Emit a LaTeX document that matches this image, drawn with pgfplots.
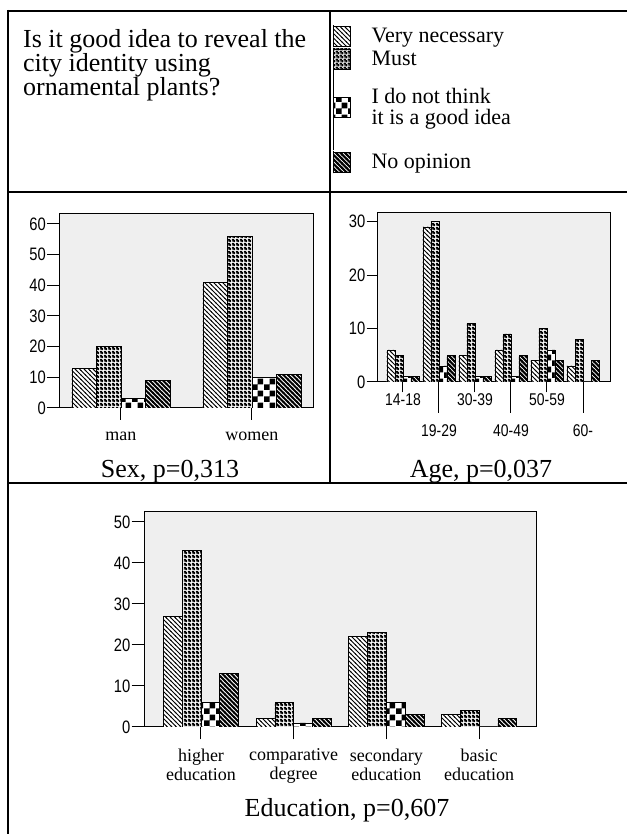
\documentclass[border=0pt]{standalone}
\usepackage{fontspec}
\setmainfont{Liberation Serif}
\newfontfamily\numfont{Liberation Sans}[FakeStretch=0.82]
\usepackage{pgfplots}
\usepackage{pgfplotstable}
\pgfplotsset{compat=1.18}
\usetikzlibrary{patterns}

\definecolor{plotbg}{RGB}{239,239,239}

% bar fill patterns (1pt = 1px of the reference)
\pgfdeclarepatternformonly{thinnw}{\pgfqpoint{-1pt}{-1pt}}{\pgfqpoint{5.5pt}{5.5pt}}{\pgfqpoint{4.5pt}{4.5pt}}{%
  \pgfsetlinewidth{0.9pt}%
  \pgfpathmoveto{\pgfqpoint{-0.5pt}{5pt}}%
  \pgfpathlineto{\pgfqpoint{5pt}{-0.5pt}}%
  \pgfusepath{stroke}}
\pgfdeclarepatternformonly{thicknw}{\pgfqpoint{-1pt}{-1pt}}{\pgfqpoint{5.5pt}{5.5pt}}{\pgfqpoint{4.5pt}{4.5pt}}{%
  \pgfsetlinewidth{2.1pt}%
  \pgfpathmoveto{\pgfqpoint{-0.5pt}{5pt}}%
  \pgfpathlineto{\pgfqpoint{5pt}{-0.5pt}}%
  \pgfusepath{stroke}}
\pgfdeclarepatternformonly{mustdots}{\pgfqpoint{0pt}{0pt}}{\pgfqpoint{4pt}{4pt}}{\pgfqpoint{4pt}{4pt}}{%
  \pgfpathrectangle{\pgfqpoint{0pt}{0pt}}{\pgfqpoint{4pt}{4pt}}%
  \pgfpathcircle{\pgfqpoint{1pt}{1pt}}{1pt}%
  \pgfpathcircle{\pgfqpoint{3pt}{3pt}}{1pt}%
  \pgfseteorule
  \pgfusepath{fill}}
\pgfdeclarepatternformonly{bigcheck}{\pgfqpoint{0pt}{0pt}}{\pgfqpoint{12pt}{12pt}}{\pgfqpoint{12pt}{12pt}}{%
  \pgfpathrectangle{\pgfqpoint{0pt}{0pt}}{\pgfqpoint{6pt}{6pt}}%
  \pgfpathrectangle{\pgfqpoint{6pt}{6pt}}{\pgfqpoint{6pt}{6pt}}%
  \pgfusepath{fill}}

\pgfplotstableread{
g vn must notgood noop
0 13 20 3 9
1 41 56 10 11
}\sexdata
\pgfplotstableread{
g vn must notgood noop
0 6 5 1 1
1 29 30 3 5
2 5 11 1 1
3 6 9 1 5
4 4 10 6 4
5 3 8 0 4
}\agedata
\pgfplotstableread{
g vn must notgood noop
0 27 43 6 13
1 2 6 1 2
2 22 23 6 3
3 3 4 0 2
}\edudata

\pgfplotsset{
  barbase/.style={draw=black, line width=0.6pt, fill=white},
  pvn/.style={barbase, postaction={pattern=thinnw}},
  pmust/.style={barbase, postaction={pattern=mustdots}},
  pnot/.style={barbase, postaction={pattern=bigcheck}},
  pnoop/.style={barbase, postaction={pattern=thicknw}},
  legbox/.style={legend image code/.code={%
      \path (0pt,-11pt) -- (0pt,11pt);
      \draw[##1] (0pt,-10pt) rectangle (17pt,10pt);}},
  legboxtall/.style={legend image code/.code={%
      \path (0pt,-43pt) -- (0pt,37pt);
      \draw[##1] (0pt,-10pt) rectangle (17pt,10pt);}},
  spss/.style={
    scale only axis, anchor=south west,
    ybar=0pt, ymin=0,
    axis background/.style={fill=plotbg},
    axis line style={black, line width=1pt},
    tick align=outside, xtick pos=bottom, ytick pos=left,
    major tick length=12pt,
    tick style={black, line width=1pt},
    /pgf/number format/assume math mode=true,
    yticklabel style={font=\numfont\fontsize{18}{18}\selectfont, inner sep=1pt},
    xticklabel style={font=\fontsize{18}{21}\selectfont, align=center, inner sep=1pt},
    xtick=data,
  },
}

\begin{document}
\begin{tikzpicture}[x=1pt, y=1pt]
\useasboundingbox (0,0) rectangle (626,834);

% Sex
\begin{axis}[spss, at={(59pt,426pt)}, width=254pt, height=194pt,
  xmin=-0.473, xmax=1.466, ymax=63.2, ytick={0,10,...,60},
  bar width=24.5pt, xticklabels={man,women},
  xticklabel style={yshift=-11pt},
  legend cell align=left,
  legend style={at={(1.0787,1.9742)}, anchor=north west, draw=none, fill=none,
    inner sep=0pt, outer sep=0pt, row sep=0pt, column sep=21pt,
    font=\fontsize{22}{21}\selectfont, cells={align=left},
    nodes={inner sep=0pt}}]
\addplot[pvn, legbox] table[x=g, y=vn] {\sexdata};
\addlegendentry{Very necessary}
\addplot[pmust, legbox] table[x=g, y=must] {\sexdata};
\addlegendentry{Must}
\addplot[pnot, legboxtall] table[x=g, y=notgood] {\sexdata};
\addlegendentry{I do not think\\it is a good idea}
\addplot[pnoop, legbox] table[x=g, y=noop] {\sexdata};
\addlegendentry{No opinion}
\end{axis}

% Age
\begin{axis}[spss, at={(377pt,452pt)}, width=233pt, height=169pt,
  xmin=-0.72, xmax=5.75, ymax=31.6, ytick={0,10,20,30},
  bar width=8pt, major tick length=10.5pt,
  xtick={0,2,4}, xticklabels={14-18,30-39,50-59},
  xticklabel style={font=\numfont\fontsize{17}{17}\selectfont},
  extra x ticks={1,3,5}, extra x tick labels={19-29,40-49,60-},
  extra x tick style={major tick length=31pt, xticklabel style={yshift=-10pt}}]
\addplot[pvn] table[x=g, y=vn] {\agedata};
\addplot[pmust] table[x=g, y=must] {\agedata};
\addplot[pnot] table[x=g, y=notgood] {\agedata};
\addplot[pnoop] table[x=g, y=noop] {\agedata};
\end{axis}

% Education
\begin{axis}[spss, at={(144pt,107pt)}, width=392pt, height=215pt,
  xmin=-0.615, xmax=3.615, ymax=52.4, ytick={0,10,...,50},
  bar width=18.8pt, major tick length=12.5pt,
  xticklabel style={yshift=-8pt, font=\fontsize{18}{19}\selectfont},
  xticklabels={{higher\\education},{comparative\\degree},{secondary\\education},{basic\\education}}]
\addplot[pvn] table[x=g, y=vn] {\edudata};
\addplot[pmust] table[x=g, y=must] {\edudata};
\addplot[pnot] table[x=g, y=notgood] {\edudata};
\addplot[pnoop] table[x=g, y=noop] {\edudata};
\end{axis}

% table frame
\draw[line width=2pt] (8,823) -- (630,823);
\draw[line width=2pt] (8,824) -- (8,-2);
\draw[line width=2pt] (330,823) -- (330,351);
\draw[line width=2pt] (8,642) -- (630,642);
\draw[line width=2pt] (8,351) -- (630,351);

% texts
\begin{scope}[every node/.style={inner sep=0pt, font=\fontsize{26}{26}\selectfont}]
\node[anchor=base west] at (23,786) {Is it good idea to reveal the};
\node[anchor=base west] at (23,762) {city identity using};
\node[anchor=base west] at (23,738) {ornamental plants?};
\node[anchor=base] at (170,356) {Sex, p=0,313};
\node[anchor=base] at (481,356) {Age, p=0,037};
\node[anchor=base] at (347,17) {Education, p=0,607};
\end{scope}
\end{tikzpicture}
\end{document}
